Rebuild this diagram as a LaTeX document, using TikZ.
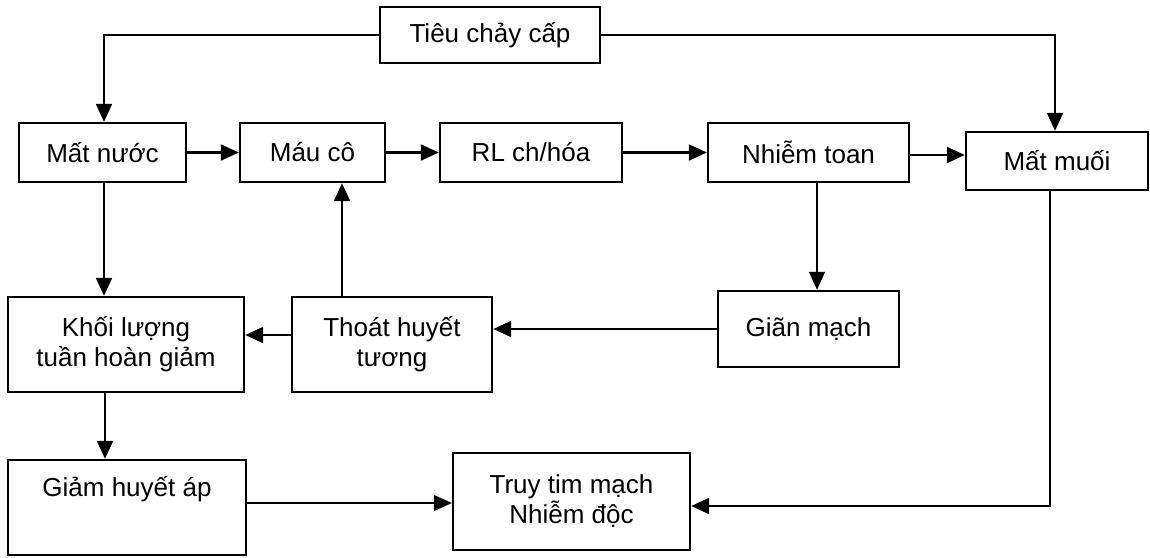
\documentclass[tikz,border=0pt]{standalone}
\usepackage{fontspec}
\setmainfont{Liberation Sans}
\usetikzlibrary{arrows.meta}
\begin{document}
\begin{tikzpicture}[x=1pt,y=-1pt,
  box/.style={draw,line width=2.4pt,align=center,inner sep=0pt,
    font=\fontsize{26}{30}\selectfont},
  conn/.style={line width=2.2pt,-{Triangle[length=18pt,width=16pt]}},
  thin/.style={conn,line width=1.6pt}]
\useasboundingbox (0,0) rectangle (1150,557);
% boxes
\node[box,minimum width=220pt,minimum height=56pt] (tieu) at (490,35) {Tiêu chảy cấp};
\node[box,minimum width=167pt,minimum height=59pt] (matnuoc) at (102.5,152.5) {Mất nước};
\node[box,minimum width=145pt,minimum height=59pt] (mauco) at (312.5,152.5) {Máu cô};
\node[box,minimum width=182pt,minimum height=59pt] (rl) at (531,152.5) {RL ch/hóa};
\node[box,minimum width=201pt,minimum height=59pt] (nhiem) at (808.5,152.5) {Nhiễm toan};
\node[box,minimum width=182pt,minimum height=58pt] (matmuoi) at (1057,161) {Mất muối};
\node[box,minimum width=236pt,minimum height=95pt] (khoi) at (126,344.5) {Khối lượng\\tuần hoàn giảm};
\node[box,minimum width=200pt,minimum height=95pt] (thoat) at (392,344.5) {Thoát huyết\\tương};
\node[box,minimum width=181pt,minimum height=76pt] (gian) at (808.5,329) {Giãn mạch};
\node[box,minimum width=238pt,minimum height=95pt] (giam) at (127,507.5) {\raisebox{18pt}[\height][\depth]{Giảm huyết áp}};
\node[box,minimum width=237pt,minimum height=97pt] (truy) at (571.5,501.5) {Truy tim mạch\\Nhiễm độc};
% connectors
\draw[conn] (tieu.west) -| ([xshift=1.5pt]matnuoc.north);
\draw[conn] (tieu.east) -| ([xshift=-2pt]matmuoi.north);
\draw[conn] (matnuoc.east) -- (mauco.west);
\draw[conn] (mauco.east) -- (rl.west);
\draw[conn] (rl.east) -- (nhiem.west);
\draw[conn] ([yshift=-2.5pt]nhiem.east) -- ([yshift=-2.5pt]nhiem.east -| matmuoi.west);
\draw[conn] ([xshift=1.5pt]matnuoc.south) -- ([xshift=1.5pt]matnuoc.south |- khoi.north);
\draw[thin] ([xshift=8.5pt]nhiem.south) -- ([xshift=8.5pt]nhiem.south |- gian.north);
\draw[thin] (gian.west) -- (gian.west -| thoat.east);
\draw[conn] ([yshift=9.5pt]thoat.west) -- ([yshift=9.5pt]thoat.west -| khoi.east);
\draw[conn] ([xshift=-50pt]thoat.north) -- ([xshift=-50pt]thoat.north |- mauco.south);
\draw[conn] ([xshift=-21pt]khoi.south) -- ([xshift=-21pt]khoi.south |- giam.north);
\draw[thin] ([yshift=4.5pt]giam.east) -- ([yshift=4.5pt]giam.east -| truy.west);
\draw[conn] ([xshift=-7pt]matmuoi.south) |- ([yshift=-4.5pt]truy.east);
\end{tikzpicture}
\end{document}
